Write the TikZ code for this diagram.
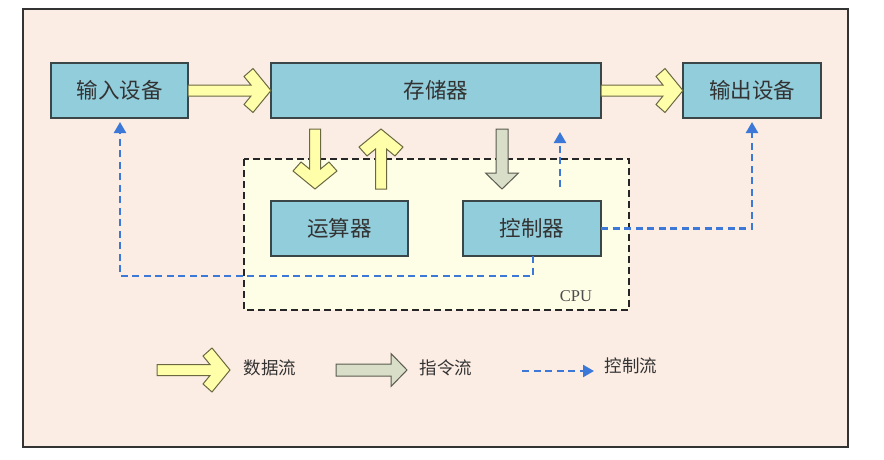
\documentclass[tikz,border=0pt]{standalone}
\usepackage{fontspec}
\setmainfont{Liberation Serif}
\newfontfamily\cjk{Noto Sans CJK SC}
\usetikzlibrary{arrows.meta}
\definecolor{bgpeach}{HTML}{FCEDE4}
\definecolor{cpufill}{HTML}{FEFDE6}
\definecolor{boxfill}{HTML}{92CDDC}
\definecolor{boxline}{HTML}{3A4648}
\definecolor{txt}{HTML}{333333}
\definecolor{yfill}{HTML}{FFFFAA}
\definecolor{yline}{HTML}{6A6840}
\definecolor{gfill}{HTML}{D8DEC8}
\definecolor{gline}{HTML}{5A5A50}
\definecolor{ctrl}{HTML}{3B78D8}
\tikzset{
  unit/.style={draw=boxline, fill=boxfill, line width=1.3pt, inner sep=0pt, outer sep=0pt,
    minimum height=55pt, text=txt, font=\cjk\fontsize{21.5}{21.5}\selectfont},
  yarrow/.style={draw=yline, fill=yfill, line width=1pt, line join=miter},
  garrow/.style={draw=gline, fill=gfill, line width=1pt, line join=miter},
  ctrlline/.style={draw=ctrl, line width=2.4pt, dash pattern=on 7pt off 4.5pt},
  ctrltip/.style={-{Triangle[width=12pt,length=11pt]}},
  legtext/.style={anchor=west, text=txt, font=\cjk\fontsize{17.5}{17.5}\selectfont},
  pics/chev/.style={code={
    \path[yarrow] (-#1,-5.5) -- (-20,-5.5) -- (-27,-14) -- (-18,-22) -- (0,0)
      -- (-18,22) -- (-27,14) -- (-20,5.5) -- (-#1,5.5) -- cycle;}},
  pics/blockarr/.style={code={
    \path[garrow] (-#1,-6) -- (-16,-6) -- (-16,-16.5) -- (0,0)
      -- (-16,16.5) -- (-16,6) -- (-#1,6) -- cycle;}}
}
\begin{document}
\begin{tikzpicture}[x=1pt,y=-1pt]
\useasboundingbox (0,0) rectangle (884,459);
\fill[white] (0,0) rectangle (884,459);
\draw[fill=bgpeach, draw=black!80, line width=1.3pt] (23,9) rectangle (848,447);
% CPU
\draw[fill=cpufill, draw=black!85, line width=1.1pt, dash pattern=on 7pt off 4pt] (244,159) rectangle (629,310);
\node[text=black!70, font=\fontsize{16.5}{16.5}\selectfont] (cpu) at (576,296) {CPU};
% units
\node[unit, minimum width=137pt] (in) at (119.5,90.5) {输入设备};
\node[unit, minimum width=330pt] (mem) at (436,90.5) {存储器};
\node[unit, minimum width=138pt] (out) at (752,90.5) {输出设备};
\node[unit, minimum width=137pt] (alu) at (339.5,228.5) {运算器};
\node[unit, minimum width=138pt] (cu) at (532,228.5) {控制器};
% data flow arrows
\pic at (in.east -| mem.west) {chev=83};
\pic at (mem.east -| out.west) {chev=82};
\pic[rotate=-90] at (315,189) {chev=60};
\pic[rotate=90] at (381,129) {chev=60};
% instruction flow
\pic[rotate=-90] at (502,189) {blockarr=60};
% control flow
\coordinate (c1) at (533,276);
\coordinate (c2) at (120,276);
\coordinate (c3) at (752,228.5);
\coordinate (c4) at (560,187);
\coordinate (c5) at (560,132);
\draw[ctrlline, ctrltip] (cu.south -| c1) -- (c1) -- (c2) -- ([yshift=-4pt]c2 |- in.south);
\draw[ctrlline, ctrltip] (cu.east) -- (c3) -- ([yshift=-4pt]c3 |- out.south);
\draw[ctrlline, ctrltip] (c4) -- (c5);
% legend
\pic at (230,370) {chev=73};
\node[legtext] (l1) at (240,368) {数据流};
\pic at (407,370) {blockarr=71};
\node[legtext] (l2) at (416,368) {指令流};
\coordinate (l3a) at (522,371);
\coordinate (l3b) at (594,371);
\draw[ctrlline, ctrltip] (l3a) -- (l3b);
\node[legtext] (l3) at (601,366) {控制流};
\end{tikzpicture}
\end{document}
